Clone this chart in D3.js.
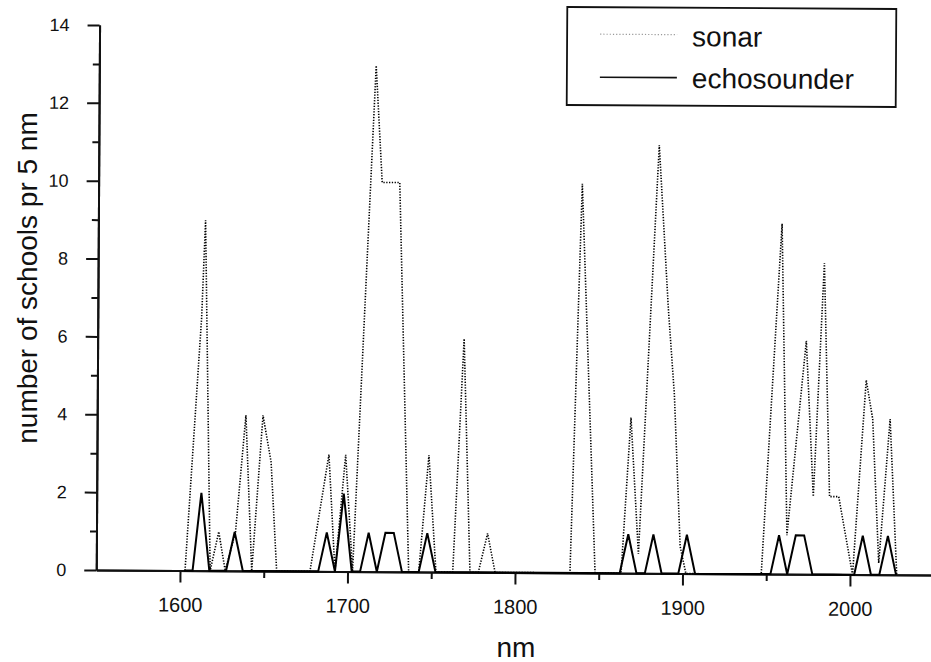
<!DOCTYPE html>
<html lang="en">
<head>
  <meta charset="UTF-8">
  <title>number of schools pr 5 nm</title>
  <script src="https://d3js.org/d3.v7.min.js"></script>
  <style>
    body {
      margin: 0;
      background-color: #ffffff;
      font-family: "Liberation Sans", Arial, Helvetica, sans-serif;
    }

    svg {
      display: block;
    }

    .axis path, .axis line {
      stroke: #111;
      stroke-width: 2;
    }

    .axis text {
      fill: #111;
      font-family: "Liberation Sans", Arial, sans-serif;
    }

    .title {
      fill: #111;
      font-family: "Liberation Sans", Arial, sans-serif;
    }
  </style>
</head>
<body>
  <svg id="chart"></svg>
  <script>
    // sonar: vertices (nm, number of schools)
    const sonarNm = [
      1603, 1612, 1614, 1618, 1623, 1627, 1633, 1638.8, 1642.8, 1649, 1654, 1657.7,
      1677.6, 1688.5, 1692.5, 1698.5, 1703, 1715.3, 1719.3, 1729.8, 1736.5,
      1742.5, 1748.2, 1752.8, 1762.8, 1768.8, 1773.1, 1778.1, 1783.5, 1788.1,
      1832.8, 1838.8, 1847.8, 1863.3, 1868.7, 1873.6, 1884.6, 1890.6, 1894.5, 1898.5, 1902,
      1947, 1958.2, 1962.2, 1973.1, 1977.8, 1983.6, 1987.5, 1993, 2001.5,
      2009, 2013, 2017.1, 2023.4, 2027.9
    ];
    const sonarCount = [
      0, 6.5, 9, 0, 1, 0, 1, 4, 0, 4, 2.8, 0,
      0, 3, 0, 3, 0, 13, 10, 10, 0,
      0, 3, 0, 0, 6, 0, 0, 1, 0,
      0, 10, 0, 0, 4, 0.5, 11, 6.8, 4.6, 0.7, 0,
      0, 9, 1, 6, 2, 8, 2, 2, 0,
      5, 4, 0.3, 4, 0
    ];

    // echosounder: 5 nm bins
    const echoNm = [
      1602.5, 1607.5, 1612.5, 1617.5, 1627.5, 1632.5, 1637.5,
      1682.5, 1687.5, 1692.5, 1697.5, 1702.5, 1707.5, 1712.5, 1717.5, 1722.5, 1727.5, 1732.5,
      1742.5, 1747.5, 1752.5,
      1862.5, 1867.5, 1872.5, 1877.5, 1882.5, 1887.5, 1897.5, 1902.5, 1907.5,
      1952.5, 1957.5, 1962.5, 1967.5, 1972.5, 1977.5,
      2002.5, 2007.5, 2012.5, 2017.5, 2022.5, 2027.5
    ];
    const echoCount = [
      0, 0, 2, 0, 0, 1, 0,
      0, 1, 0, 2, 0, 0, 1, 0, 1, 1, 0,
      0, 1, 0,
      0, 1, 0, 0, 1, 0, 0, 1, 0,
      0, 1, 0, 1, 1, 0,
      0, 1, 0, 0, 1, 0
    ];

    const xMajorTicks = [1600, 1700, 1800, 1900, 2000];
    const xMinorTicks = [1650, 1750, 1850, 1950];
    const yMajorTicks = [0, 2, 4, 6, 8, 10, 12, 14];
    const yMinorTicks = [1, 3, 5, 7, 9, 11, 13];
    const seriesNames = ["sonar", "echosounder"];

    const W = 931, H = 662;
    const tilt = 0.35; // the scanned original is turned a little

    const svg = d3.select("#chart")
      .attr("width", W)
      .attr("height", H);

    const x = d3.scaleLinear()
      .domain([1550, 2050])
      .range([96.25, 933.75]);

    const y = d3.scaleLinear()
      .domain([0, 14])
      .range([570, 25]);

    const plot = svg.append("g")
      .attr("transform", `rotate(${tilt}, ${x(1550)}, ${y(0)})`);

    // Axes
    plot.append("g")
      .attr("class", "axis")
      .attr("transform", `translate(${x(1550)},0)`)
      .call(d3.axisLeft(y).tickValues(yMinorTicks).tickSize(6.5).tickSizeOuter(0).tickFormat(""));

    plot.append("g")
      .attr("class", "axis")
      .attr("transform", `translate(${x(1550)},0)`)
      .call(d3.axisLeft(y).tickValues(yMajorTicks).tickSize(12).tickSizeOuter(0).tickPadding(18))
      .selectAll("text")
      .style("font-size", "18px");

    plot.append("g")
      .attr("class", "axis")
      .attr("transform", `translate(0,${y(0)})`)
      .call(d3.axisBottom(x).tickValues(xMinorTicks).tickSize(7).tickSizeOuter(0).tickFormat(""));

    plot.append("g")
      .attr("class", "axis")
      .attr("transform", `translate(0,${y(0)})`)
      .call(d3.axisBottom(x).tickValues(xMajorTicks).tickSize(12).tickSizeOuter(0).tickPadding(15).tickFormat(d3.format("d")))
      .selectAll("text")
      .style("font-size", "20px");

    // Lines
    const line = d3.line()
      .x(d => x(d[0]))
      .y(d => y(d[1]));

    const sonar = sonarNm.map((d, i) => [d, sonarCount[i]]);
    const echo = echoNm.map((d, i) => [d, echoCount[i]]);

    plot.append("path")
      .datum(sonar)
      .attr("d", line)
      .attr("fill", "none")
      .attr("stroke", "#000")
      .attr("stroke-width", 1.6)
      .attr("stroke-dasharray", "1.3,1.5");

    plot.append("path")
      .datum(echo)
      .attr("d", line)
      .attr("fill", "none")
      .attr("stroke", "#000")
      .attr("stroke-width", 2)
      .attr("stroke-linejoin", "miter");

    // Legend
    const legend = svg.append("g")
      .attr("transform", `rotate(${tilt}, 731, 57)`);

    legend.append("rect")
      .attr("x", 567)
      .attr("y", 8)
      .attr("width", 329)
      .attr("height", 98)
      .attr("fill", "#fff")
      .attr("stroke", "#111")
      .attr("stroke-width", 1.8);

    legend.append("line")
      .attr("x1", 600).attr("x2", 677)
      .attr("y1", 35).attr("y2", 35)
      .attr("stroke", "#999")
      .attr("stroke-width", 1.2)
      .attr("stroke-dasharray", "1.2,2");

    legend.append("line")
      .attr("x1", 600).attr("x2", 677)
      .attr("y1", 78).attr("y2", 78)
      .attr("stroke", "#111")
      .attr("stroke-width", 1.6);

    legend.selectAll("text.legend-label")
      .data(seriesNames)
      .enter()
      .append("text")
      .attr("class", "title legend-label")
      .attr("x", 692)
      .attr("y", (d, i) => i === 0 ? 46.5 : 88.3)
      .style("font-size", "28px")
      .text(d => d);

    // Axis titles
    svg.append("text")
      .attr("class", "title")
      .attr("x", 516)
      .attr("y", 657)
      .attr("text-anchor", "middle")
      .style("font-size", "28px")
      .text("nm");

    svg.append("text")
      .attr("class", "title")
      .attr("transform", "translate(37,278) rotate(-90)")
      .attr("text-anchor", "middle")
      .style("font-size", "28px")
      .text("number of schools pr 5 nm");
  </script>
</body>
</html>
